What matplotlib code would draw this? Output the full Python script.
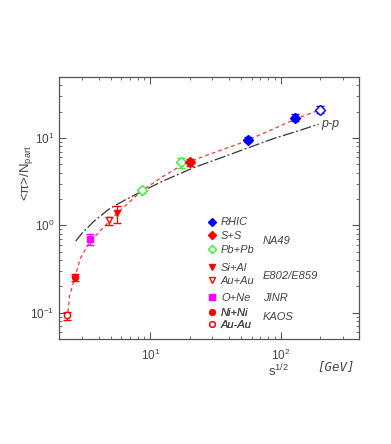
"""Pion multiplicity per participant vs collision energy"""

import matplotlib
matplotlib.use("Agg")
from matplotlib import pyplot as plt
from matplotlib.lines import Line2D

# --- data ------------------------------------------------------------------
# RHIC
rhic_x = [56, 130]
rhic_y = [9.6, 17.1]
rhic_err = [0.6, 1.5]
rhic200_x = [200]
rhic200_y = [21.2]
rhic200_err = [2.0]
# NA49
ss_x = [20]
ss_y = [5.3]
ss_err = [0.5]
pbpb_x = [8.7, 17.3]
pbpb_y = [2.52, 5.25]
pbpb_err = [0.15, 0.7]
# E802/E859
sial_x = [5.5]
sial_y = [1.37]
sial_err = [0.3]
auau_ags_x = [4.85]
auau_ags_y = [1.14]
auau_ags_err = [0.12]
# JINR
one_x = [3.46]
one_y = [0.69]
one_err = [0.1]
# KAOS
nini_x = [2.62]
nini_y = [0.256]
nini_err = [0.025]
auau_sis_x = [2.31]
auau_sis_y = [0.093]
auau_sis_err = [0.01]

# red dashed curve through the A+A data
fit_x = [2.3, 2.4, 2.62, 2.9, 3.46, 4.3, 4.85, 5.5, 6.5, 8.6, 12.4, 16.7,
         20, 23.7, 52, 89, 130, 200]
fit_y = [0.085, 0.156, 0.25, 0.42, 0.66, 0.92, 1.12, 1.35, 1.7, 2.5, 3.6,
         4.7, 5.3, 5.9, 9.0, 12.8, 16.5, 21.0]

# black dash-dot p-p curve
pp_x = [2.67, 3.0, 3.7, 4.85, 6.5, 8.6, 12.4, 21.7, 40, 52, 89, 130, 196]
pp_y = [0.66, 0.82, 1.12, 1.55, 1.98, 2.45, 3.2, 4.6, 6.4, 7.4, 9.9, 11.8,
        14.4]

TXT = '#444444'
RED = '#ff0000'
BLUE = '#0000ff'
GREEN = '#33ee33'
MAG = '#ff00ff'

plt.rcParams['font.family'] = ['Liberation Sans', 'DejaVu Sans']
plt.rcParams['mathtext.fontset'] = 'custom'
plt.rcParams['mathtext.rm'] = 'Liberation Sans'
plt.rcParams['mathtext.it'] = 'Liberation Sans:italic'

fig = plt.figure(figsize=(3.91, 4.44), dpi=100)
ax = fig.add_axes([0.1517, 0.2365, 0.7665, 0.5901])
ax.set_xscale('log')
ax.set_yscale('log')
ax.set_xlim(2, 400)
ax.set_ylim(0.05, 50)

# curves
ax.plot(fit_x, fit_y, color='#ff3333', lw=0.9, ls=(0, (3, 2.5)), zorder=2)
ax.plot(pp_x, pp_y, color='#333333', lw=0.9, ls=(0, (9, 2, 1.5, 2)), zorder=2)


def points(x, y, err, marker, color, filled=True, ms=5.5):
    """Draw one data set with error bars"""
    ax.errorbar(x, y, yerr=err, fmt=marker, color=color, ms=ms,
                mfc=color if filled else 'white', mec=color, mew=1.0,
                elinewidth=0.9, capsize=3, capthick=0.9, zorder=3)


points(rhic_x, rhic_y, rhic_err, 'D', BLUE, ms=5)
points(rhic200_x, rhic200_y, rhic200_err, 'D', BLUE, filled=False, ms=5)
points(pbpb_x, pbpb_y, pbpb_err, 'D', GREEN, filled=False, ms=5)
points(ss_x, ss_y, ss_err, 'D', RED, ms=5)
points(sial_x, sial_y, sial_err, 'v', RED, ms=5)
points(auau_ags_x, auau_ags_y, auau_ags_err, 'v', RED, filled=False, ms=5)
points(one_x, one_y, one_err, 's', MAG, ms=5)
points(nini_x, nini_y, nini_err, 'o', RED, ms=4.5)
points(auau_sis_x, auau_sis_y, auau_sis_err, 'o', RED, filled=False, ms=4.5)

ax.text(205, 14.6, 'p-p', style='italic', fontsize=9, color=TXT,
        va='center', ha='left')


def proxy(marker, color, filled=True, ms=5.0):
    """Marker-only legend key"""
    return Line2D([], [], ls='none', marker=marker, ms=ms, mec=color,
                  mfc=color if filled else 'white', mew=1.0)


# legend, in four groups with the experiment names beside them
groups = [
    ([proxy('D', BLUE, ms=4.5), proxy('D', RED, ms=4.5),
      proxy('D', GREEN, False, ms=4.5)],
     ['RHIC', 'S+S', 'Pb+Pb'], 0.464, 0.33, 'NA49', 0.374),
    ([proxy('v', RED, ms=4.5), proxy('v', RED, False, ms=4.5)],
     ['Si+Al', 'Au+Au'], 0.289, 0.27, 'E802/E859', 0.242),
    ([proxy('s', MAG, ms=4.5)], ['O+Ne'], 0.177, 0.2, 'JINR', 0.158),
    ([proxy('o', RED, ms=4), proxy('o', RED, False, ms=4)],
     ['Ni+Ni', 'Au-Au'], 0.117, 0.15, 'KAOS', 0.083),
]
for handles, labels, ytop, spacing, name, yname in groups:
    leg = ax.legend(handles, labels, loc='upper left',
                    bbox_to_anchor=(0.491, ytop), frameon=False,
                    fontsize=8, handlelength=1.0, handletextpad=0.3,
                    labelspacing=spacing, borderpad=0.0, borderaxespad=0.0)
    for t in leg.get_texts():
        t.set_style('italic')
        t.set_color(TXT)
    ax.add_artist(leg)
    ax.text(0.679, yname, name, transform=ax.transAxes, style='italic',
            fontsize=8, color=TXT, va='center')

# axes styling
for side in ax.spines.values():
    side.set_color('#555555')
    side.set_linewidth(0.9)
ax.tick_params(which='both', direction='in', top=True, right=True,
               colors='#555555', labelcolor=TXT, labelsize=8.5)
ax.tick_params(which='major', length=5, width=0.8)
ax.tick_params(which='minor', length=2.5, width=0.6)
ax.tick_params(axis='x', pad=6)

fig.text(0.068, 0.61, r'<π>/N$_{\mathrm{part}}$', rotation=90,
         ha='center', va='center', fontsize=9.5, color=TXT)
fig.text(0.686, 0.152, r's$^{1/2}$', fontsize=9.5, color=TXT,
         ha='left', va='baseline')
fig.text(0.812, 0.166, '[GeV]', fontsize=9, color=TXT, style='italic',
         family=['DejaVu Sans Mono'], ha='left', va='baseline')

plt.savefig('out.png', dpi=100)
